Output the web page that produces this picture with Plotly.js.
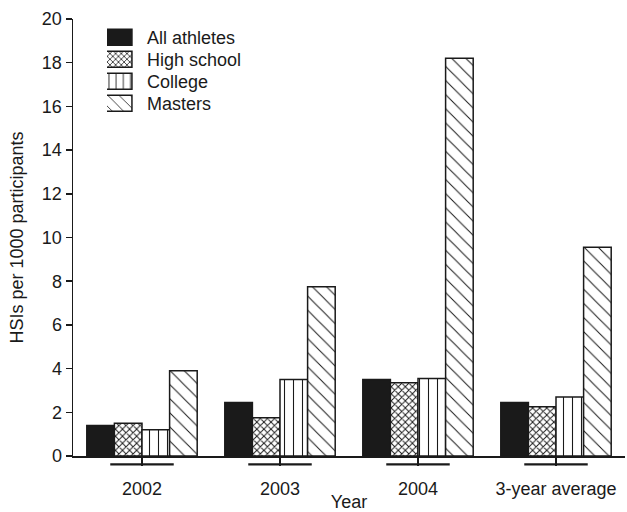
<!DOCTYPE html>
<html>
<head>
<meta charset="utf-8">
<script src="https://cdn.plot.ly/plotly-3.0.1.min.js"></script>
<style>html,body{margin:0;padding:0;background:#fff;}</style>
</head>
<body>
<div id="chart" style="width:627px;height:512px;"></div>
<script>
const years = ["2002", "2003", "2004", "3-year average"];
const seriesNames = ["All athletes", "High school", "College", "Masters"];
const allAthletes = [1.4, 2.45, 3.5, 2.45];
const highSchool = [1.5, 1.75, 3.35, 2.25];
const college = [1.2, 3.5, 3.55, 2.7];
const masters = [3.9, 7.75, 18.2, 9.55];
const yTicks = [0, 2, 4, 6, 8, 10, 12, 14, 16, 18, 20];

const line = {color: "#1a1a1a", width: 1.5};
const traces = [
  {type: "bar", name: seriesNames[0], x: years, y: allAthletes,
   marker: {color: "#1a1a1a", line: line}},
  {type: "bar", name: seriesNames[1], x: years, y: highSchool,
   marker: {color: "white", line: line,
            pattern: {shape: "x", fgcolor: "#1a1a1a", bgcolor: "white", size: 5, solidity: 0.35}}},
  {type: "bar", name: seriesNames[2], x: years, y: college,
   marker: {color: "white", line: line,
            pattern: {shape: "|", fgcolor: "#1a1a1a", bgcolor: "white", size: 9, solidity: 0.12}}},
  {type: "bar", name: seriesNames[3], x: years, y: masters,
   marker: {color: "white", line: line,
            pattern: {shape: "\\", fgcolor: "#1a1a1a", bgcolor: "white", size: 10, solidity: 0.1}}}
];

const shapes = years.map((y, i) => ({
  type: "line", xref: "x", yref: "paper",
  x0: i - 0.23, x1: i + 0.23, y0: -0.019, y1: -0.019,
  line: {color: "#1a1a1a", width: 2.2}
}));

const layout = {
  width: 627, height: 512,
  margin: {l: 73, r: 2, t: 19, b: 56},
  paper_bgcolor: "white", plot_bgcolor: "white",
  font: {family: "Liberation Sans, Arial, sans-serif", size: 18, color: "#1a1a1a"},
  barmode: "group", bargap: 0.2, bargroupgap: 0,
  showlegend: true,
  legend: {x: 0.0615, y: 1.0, xanchor: "left", yanchor: "top",
           bgcolor: "rgba(0,0,0,0)", tracegroupgap: 0,
           font: {size: 18}},
  xaxis: {type: "category", showline: true, linecolor: "#1a1a1a", linewidth: 1.5,
          ticks: "outside", ticklen: 8, tickwidth: 1.5, tickcolor: "#1a1a1a",
          ticklabelstandoff: 8, showgrid: false, zeroline: false,
          range: [-0.5, 3.5], fixedrange: true,
          title: {text: "Year", font: {size: 18}, standoff: 3}},
  yaxis: {range: [0, 20], tickvals: yTicks, showline: true, linecolor: "#1a1a1a",
          linewidth: 1.5, ticks: "outside", ticklen: 6, tickwidth: 1.5,
          tickcolor: "#1a1a1a", showgrid: false, zeroline: false,
          title: {text: "HSIs per 1000 participants", font: {size: 18}, standoff: 13}},
  shapes: shapes
};

Plotly.newPlot("chart", traces, layout, {displayModeBar: false, staticPlot: true}).then(gd => {
  // enlarge legend swatches to match the reference's wide boxes
  gd.querySelectorAll(".legend .legendpoints path").forEach(p => {
    p.setAttribute("d", "M-32,-8H5V8H-32Z");
  });
  // tighten legend row spacing to match the reference
  const items = gd.querySelectorAll(".legend g.traces");
  let y0 = null;
  items.forEach((g, i) => {
    const m = /translate\(([-\d.]+)[ ,]+([-\d.]+)\)/.exec(g.getAttribute("transform") || "");
    if (!m) return;
    if (y0 === null) { y0 = parseFloat(m[2]); }
    g.setAttribute("transform", "translate(" + parseFloat(m[1]) + "," + (y0 + i * 22) + ")");
  });
});
</script>
</body>
</html>
